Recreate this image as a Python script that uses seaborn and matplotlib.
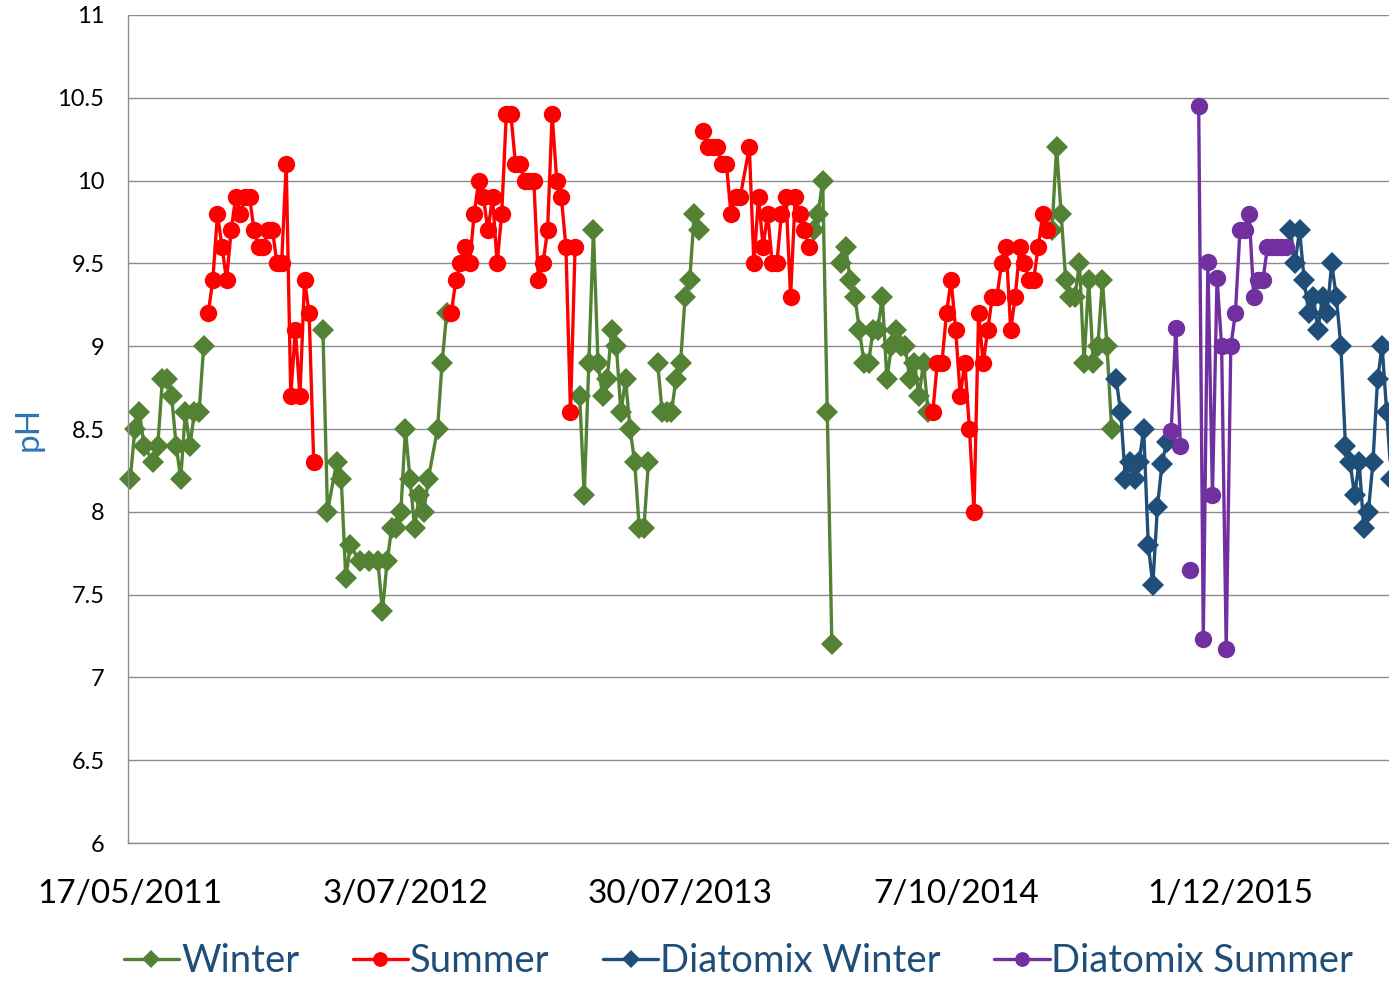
import numpy as np
import pandas as pd
import matplotlib
matplotlib.use('Agg')
import matplotlib.pyplot as plt
from matplotlib.lines import Line2D
import seaborn as sns

sns.set_style('white')
plt.rcParams['font.family'] = ['Lato', 'DejaVu Sans']

nan = np.nan

# category positions (one per sampling date); NaN value = break in the line
winter_idx = [0, 1, 2, 3, 5, 6, 7, 8, 9, 10, 11, 12, 13, 14, 15, 16, 17,
              42, 43, 45, 46, 47, 48, 50, 52, 54, 55, 56, 57, 58, 59, 60, 61, 62, 63, 64, 65, 67, 68, 69, 70,
              98, 99, 100, 101, 102, 103, 104, 105, 106, 107, 108, 109, 110, 111, 112, 113, 114,
              115, 116, 117, 118, 119, 120, 121, 122, 123, 124, 125,
              149, 150, 151, 152, 153, 154,
              155, 156, 157, 158, 159, 160, 161, 162, 163, 164, 165, 166, 167, 168, 169, 170, 171, 172, 173, 174, 175,
              201, 202, 203, 204, 205, 206, 207, 208, 209, 210, 211, 212, 213, 214]
winter_ph = [8.2, 8.5, 8.6, 8.4, 8.3, 8.4, 8.8, 8.8, 8.7, 8.4, 8.2, 8.6, 8.4, 8.6, 8.6, 9.0, nan,
             9.1, 8.0, 8.3, 8.2, 7.6, 7.8, 7.7, 7.7, 7.7, 7.4, 7.7, 7.9, 7.9, 8.0, 8.5, 8.2, 7.9, 8.1, 8.0, 8.2, 8.5, 8.9, 9.2, nan,
             8.7, 8.1, 8.9, 9.7, 8.9, 8.7, 8.8, 9.1, 9.0, 8.6, 8.8, 8.5, 8.3, 7.9, 7.9, 8.3, nan,
             8.9, 8.6, 8.6, 8.6, 8.8, 8.9, 9.3, 9.4, 9.8, 9.7, nan,
             9.7, 9.8, 10.0, 8.6, 7.2, nan,
             9.5, 9.6, 9.4, 9.3, 9.1, 8.9, 8.9, 9.1, 9.1, 9.3, 8.8, 9.0, 9.1, 9.0, 9.0, 8.8, 8.9, 8.7, 8.9, 8.6, nan,
             9.7, 10.2, 9.8, 9.4, 9.3, 9.3, 9.5, 8.9, 9.4, 8.9, 9.0, 9.4, 9.0, 8.5]

summer_idx = list(range(17, 41)) + [41] + list(range(70, 98)) + [98] + \
    list(range(125, 134)) + list(range(135, 149)) + [149] + list(range(175, 201))
summer_ph = [9.2, 9.4, 9.8, 9.6, 9.4, 9.7, 9.9, 9.8, 9.9, 9.9, 9.7, 9.6, 9.6, 9.7, 9.7, 9.5, 9.5, 10.1,
             8.7, 9.1, 8.7, 9.4, 9.2, 8.3, nan,
             9.2, 9.4, 9.5, 9.6, 9.5, 9.8, 10.0, 9.9, 9.7, 9.9, 9.5, 9.8, 10.4, 10.4, 10.1, 10.1, 10.0, 10.0,
             10.0, 9.4, 9.5, 9.7, 10.4, 10.0, 9.9, 9.6, 8.6, 9.6, nan,
             10.3, 10.2, 10.2, 10.2, 10.1, 10.1, 9.8, 9.9, 9.9,
             10.2, 9.5, 9.9, 9.6, 9.8, 9.5, 9.5, 9.8, 9.9, 9.3, 9.9, 9.8, 9.7, 9.6, nan,
             8.6, 8.9, 8.9, 9.2, 9.4, 9.1, 8.7, 8.9, 8.5, 8.0, 9.2, 8.9, 9.1, 9.3, 9.3, 9.5, 9.6, 9.1, 9.3,
             9.6, 9.5, 9.4, 9.4, 9.6, 9.8, 9.7]

dwinter_idx = list(range(215, 227)) + [227] + list(range(253, 276))
dwinter_ph = [8.8, 8.6, 8.2, 8.3, 8.2, 8.3, 8.5, 7.8, 7.56, 8.03, 8.29, 8.42, nan,
              9.7, 9.5, 9.7, 9.4, 9.2, 9.3, 9.1, 9.3, 9.2, 9.5, 9.3, 9.0, 8.4, 8.3, 8.1, 8.3, 7.9, 8.0,
              8.3, 8.8, 9.0, 8.6, 8.2]

dsummer_idx = [227, 228, 229, 230, 231, 232] + list(range(233, 253))
dsummer_ph = [8.49, 9.11, 8.4, nan, 7.65, nan,
              10.45, 7.23, 9.51, 8.1, 9.41, 9.0, 7.17, 9.0, 9.2, 9.7, 9.7, 9.8, 9.3, 9.4, 9.4,
              9.6, 9.6, 9.6, 9.6, 9.6]

date_pos = [0, 60, 120, 180, 240]
date_labels = ['17/05/2011', '3/07/2012', '30/07/2013', '7/10/2014', '1/12/2015']

series = [
    ('Winter', winter_idx, winter_ph, '#548235', 'D', 11),
    ('Summer', summer_idx, summer_ph, '#FF0000', 'o', 12.5),
    ('Diatomix Winter', dwinter_idx, dwinter_ph, '#1F4E79', 'D', 11),
    ('Diatomix Summer', dsummer_idx, dsummer_ph, '#7030A0', 'o', 12.5),
]

fig = plt.figure(figsize=(13.89, 9.81), dpi=100)
ax = fig.add_axes([128 / 1389, 1 - 843 / 981, 1 - 128 / 1389, (843 - 15) / 981])

handles = []
for name, idx, ph, color, marker, ms in series:
    df = pd.DataFrame({'idx': idx, 'pH': ph})
    df['seg'] = df['pH'].isna().cumsum()
    df = df.dropna()
    sns.lineplot(data=df, x='idx', y='pH', units='seg', estimator=None, sort=False,
                 color=color, marker=marker, markersize=ms, markeredgewidth=0,
                 linewidth=2.4, legend=False, ax=ax, clip_on=False)
    handles.append(Line2D([0], [0], color=color, marker=marker, markersize=ms * 0.85,
                          markeredgewidth=0, linewidth=2.4))

ax.set_xlim(-0.5, 274.5)
ax.set_ylim(6, 11)
ax.set_yticks(np.arange(6, 11.01, 0.5))
ax.set_yticklabels(['6', '6.5', '7', '7.5', '8', '8.5', '9', '9.5', '10', '10.5', '11'])
ax.set_xticks(date_pos)
ax.set_xticklabels(date_labels)
ax.set_xticks(np.arange(-0.5, 276, 5), minor=True)

grey = '#8C8C8C'
ax.grid(axis='y', color=grey, linewidth=1)
ax.set_axisbelow(True)
for side in ['top', 'right']:
    ax.spines[side].set_visible(False)
for side in ['left', 'bottom']:
    ax.spines[side].set_color(grey)
    ax.spines[side].set_linewidth(1)

ax.tick_params(axis='x', which='major', length=0, pad=26, labelsize=24, labelcolor='black')
ax.tick_params(axis='x', which='minor', length=7, width=1, color=grey, direction='out')
ax.tick_params(axis='y', length=5, width=1, color=grey, direction='out', pad=12,
               labelsize=17, labelcolor='black')

ax.set_xlabel('')
ax.set_ylabel('pH', fontsize=24, color='#2E75B6', labelpad=10)

fig.legend(handles, [s[0] for s in series], loc='center', bbox_to_anchor=(0.5317, 0.0205),
           ncol=4, frameon=False, fontsize=27.5, labelcolor='#1F4E79', borderpad=0.2,
           handlelength=1.45, handletextpad=0.05, columnspacing=1.4)

fig.savefig('out.png', dpi=100)
plt.close(fig)
